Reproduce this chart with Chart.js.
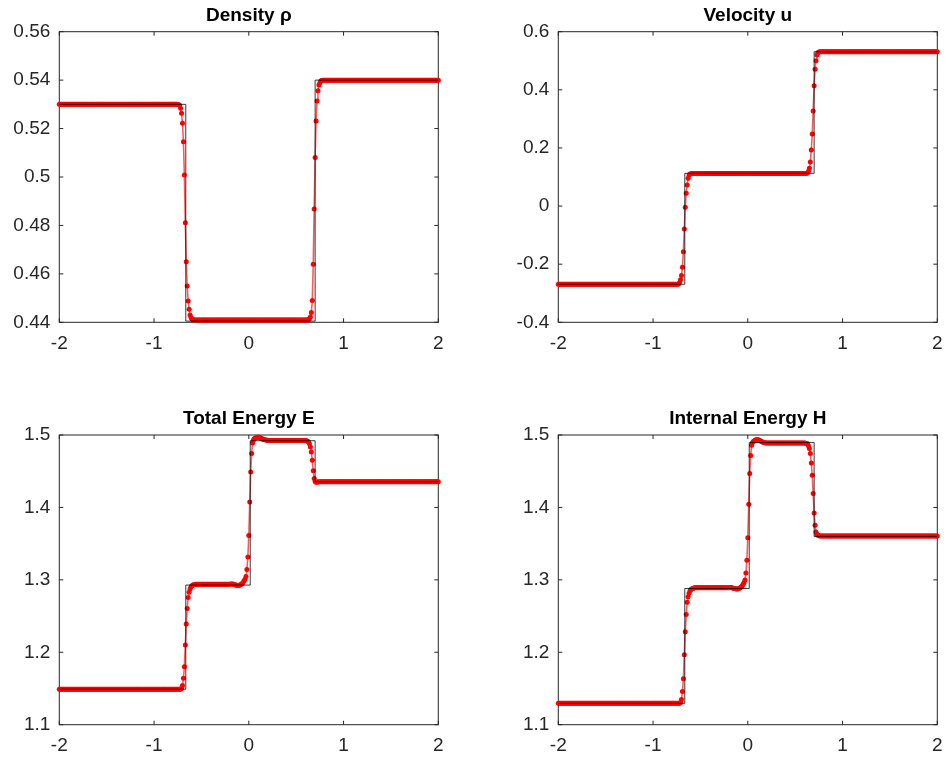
<!DOCTYPE html>
<html>
<head>
<meta charset="utf-8">
<script src="https://cdn.jsdelivr.net/npm/chart.js@4/dist/chart.umd.min.js"></script>
<style>
  html, body { margin: 0; padding: 0; background: #fff; }
  body { width: 947px; height: 761px; position: relative; overflow: hidden; }
  .panel { position: absolute; }
</style>
</head>
<body>
<div class="panel" style="left:0;top:0;width:473px;height:380px"><canvas id="rhoPlot"></canvas></div>
<div class="panel" style="left:473px;top:0;width:481px;height:380px"><canvas id="uPlot"></canvas></div>
<div class="panel" style="left:0;top:380px;width:473px;height:381px"><canvas id="ePlot"></canvas></div>
<div class="panel" style="left:473px;top:380px;width:481px;height:381px"><canvas id="hPlot"></canvas></div>
<script>
// Cell positions of the numerical solution (401 points, -2 .. 2)
const xGrid = [
-2,-1.99,-1.98,-1.97,-1.96,-1.95,-1.94,-1.93,-1.92,-1.91, -1.9,-1.89,-1.88,-1.87,-1.86,-1.85,-1.84,-1.83,-1.82,-1.81,
-1.8,-1.79,-1.78,-1.77,-1.76,-1.75,-1.74,-1.73,-1.72,-1.71, -1.7,-1.69,-1.68,-1.67,-1.66,-1.65,-1.64,-1.63,-1.62,-1.61,
-1.6,-1.59,-1.58,-1.57,-1.56,-1.55,-1.54,-1.53,-1.52,-1.51, -1.5,-1.49,-1.48,-1.47,-1.46,-1.45,-1.44,-1.43,-1.42,-1.41,
-1.4,-1.39,-1.38,-1.37,-1.36,-1.35,-1.34,-1.33,-1.32,-1.31, -1.3,-1.29,-1.28,-1.27,-1.26,-1.25,-1.24,-1.23,-1.22,-1.21,
-1.2,-1.19,-1.18,-1.17,-1.16,-1.15,-1.14,-1.13,-1.12,-1.11, -1.1,-1.09,-1.08,-1.07,-1.06,-1.05,-1.04,-1.03,-1.02,-1.01,
-1,-0.99,-0.98,-0.97,-0.96,-0.95,-0.94,-0.93,-0.92,-0.91, -0.9,-0.89,-0.88,-0.87,-0.86,-0.85,-0.84,-0.83,-0.82,-0.81,
-0.8,-0.79,-0.78,-0.77,-0.76,-0.75,-0.74,-0.73,-0.72,-0.71, -0.7,-0.69,-0.68,-0.67,-0.66,-0.65,-0.64,-0.63,-0.62,-0.61,
-0.6,-0.59,-0.58,-0.57,-0.56,-0.55,-0.54,-0.53,-0.52,-0.51, -0.5,-0.49,-0.48,-0.47,-0.46,-0.45,-0.44,-0.43,-0.42,-0.41,
-0.4,-0.39,-0.38,-0.37,-0.36,-0.35,-0.34,-0.33,-0.32,-0.31, -0.3,-0.29,-0.28,-0.27,-0.26,-0.25,-0.24,-0.23,-0.22,-0.21,
-0.2,-0.19,-0.18,-0.17,-0.16,-0.15,-0.14,-0.13,-0.12,-0.11, -0.1,-0.09,-0.08,-0.07,-0.06,-0.05,-0.04,-0.03,-0.02,-0.01,
0,0.01,0.02,0.03,0.04,0.05,0.06,0.07,0.08,0.09, 0.1,0.11,0.12,0.13,0.14,0.15,0.16,0.17,0.18,0.19,
0.2,0.21,0.22,0.23,0.24,0.25,0.26,0.27,0.28,0.29, 0.3,0.31,0.32,0.33,0.34,0.35,0.36,0.37,0.38,0.39,
0.4,0.41,0.42,0.43,0.44,0.45,0.46,0.47,0.48,0.49, 0.5,0.51,0.52,0.53,0.54,0.55,0.56,0.57,0.58,0.59,
0.6,0.61,0.62,0.63,0.64,0.65,0.66,0.67,0.68,0.69, 0.7,0.71,0.72,0.73,0.74,0.75,0.76,0.77,0.78,0.79,
0.8,0.81,0.82,0.83,0.84,0.85,0.86,0.87,0.88,0.89, 0.9,0.91,0.92,0.93,0.94,0.95,0.96,0.97,0.98,0.99,
1,1.01,1.02,1.03,1.04,1.05,1.06,1.07,1.08,1.09, 1.1,1.11,1.12,1.13,1.14,1.15,1.16,1.17,1.18,1.19,
1.2,1.21,1.22,1.23,1.24,1.25,1.26,1.27,1.28,1.29, 1.3,1.31,1.32,1.33,1.34,1.35,1.36,1.37,1.38,1.39,
1.4,1.41,1.42,1.43,1.44,1.45,1.46,1.47,1.48,1.49, 1.5,1.51,1.52,1.53,1.54,1.55,1.56,1.57,1.58,1.59,
1.6,1.61,1.62,1.63,1.64,1.65,1.66,1.67,1.68,1.69, 1.7,1.71,1.72,1.73,1.74,1.75,1.76,1.77,1.78,1.79,
1.8,1.81,1.82,1.83,1.84,1.85,1.86,1.87,1.88,1.89, 1.9,1.91,1.92,1.93,1.94,1.95,1.96,1.97,1.98,1.99,
2
];

// Numerical density
const density = [
0.53,0.53,0.53,0.53,0.53,0.53,0.53,0.53,0.53,0.53, 0.53,0.53,0.53,0.53,0.53,0.53,0.53,0.53,0.53,0.53,
0.53,0.53,0.53,0.53,0.53,0.53,0.53,0.53,0.53,0.53, 0.53,0.53,0.53,0.53,0.53,0.53,0.53,0.53,0.53,0.53,
0.53,0.53,0.53,0.53,0.53,0.53,0.53,0.53,0.53,0.53, 0.53,0.53,0.53,0.53,0.53,0.53,0.53,0.53,0.53,0.53,
0.53,0.53,0.53,0.53,0.53,0.53,0.53,0.53,0.53,0.53, 0.53,0.53,0.53,0.53,0.53,0.53,0.53,0.53,0.53,0.53,
0.53,0.53,0.53,0.53,0.53,0.53,0.53,0.53,0.53,0.53, 0.53,0.53,0.53,0.53,0.53,0.53,0.53,0.53,0.53,0.53,
0.53,0.53,0.53,0.53,0.53,0.53,0.53,0.53,0.53,0.53, 0.53,0.53,0.53,0.53,0.53,0.53,0.53,0.53,0.53,0.53,
0.53,0.53,0.53,0.53,0.53,0.5299,0.5298,0.5296,0.5284,0.5263, 0.5222,0.5146,0.5008,0.4811,0.465,0.455,0.4488,0.4454,0.443,0.442,
0.4414,0.4412,0.441,0.441,0.441,0.441,0.441,0.441,0.441,0.441, 0.441,0.441,0.441,0.441,0.441,0.441,0.441,0.441,0.441,0.441,
0.441,0.441,0.441,0.441,0.441,0.441,0.441,0.441,0.441,0.441, 0.441,0.441,0.441,0.441,0.441,0.441,0.441,0.441,0.441,0.441,
0.441,0.441,0.441,0.441,0.441,0.441,0.441,0.441,0.441,0.441, 0.441,0.441,0.441,0.441,0.441,0.441,0.441,0.441,0.441,0.441,
0.441,0.441,0.441,0.441,0.441,0.441,0.441,0.441,0.441,0.441, 0.441,0.441,0.441,0.441,0.441,0.441,0.441,0.441,0.441,0.441,
0.441,0.441,0.441,0.441,0.441,0.441,0.441,0.441,0.441,0.441, 0.441,0.441,0.441,0.441,0.441,0.441,0.441,0.441,0.441,0.441,
0.441,0.441,0.441,0.441,0.441,0.441,0.441,0.441,0.441,0.441, 0.441,0.441,0.441,0.441,0.441,0.441,0.441,0.441,0.441,0.441,
0.441,0.441,0.441,0.4412,0.4415,0.4422,0.444,0.449,0.464,0.4868, 0.5081,0.5231,0.5314,0.5356,0.538,0.5389,0.5396,0.5399,0.54,0.54,
0.54,0.54,0.54,0.54,0.54,0.54,0.54,0.54,0.54,0.54, 0.54,0.54,0.54,0.54,0.54,0.54,0.54,0.54,0.54,0.54,
0.54,0.54,0.54,0.54,0.54,0.54,0.54,0.54,0.54,0.54, 0.54,0.54,0.54,0.54,0.54,0.54,0.54,0.54,0.54,0.54,
0.54,0.54,0.54,0.54,0.54,0.54,0.54,0.54,0.54,0.54, 0.54,0.54,0.54,0.54,0.54,0.54,0.54,0.54,0.54,0.54,
0.54,0.54,0.54,0.54,0.54,0.54,0.54,0.54,0.54,0.54, 0.54,0.54,0.54,0.54,0.54,0.54,0.54,0.54,0.54,0.54,
0.54,0.54,0.54,0.54,0.54,0.54,0.54,0.54,0.54,0.54, 0.54,0.54,0.54,0.54,0.54,0.54,0.54,0.54,0.54,0.54,
0.54,0.54,0.54,0.54,0.54,0.54,0.54,0.54,0.54,0.54, 0.54,0.54,0.54,0.54,0.54,0.54,0.54,0.54,0.54,0.54,
0.54
];

// Numerical velocity
const velocity = [
-0.269,-0.269,-0.269,-0.269,-0.269,-0.269,-0.269,-0.269,-0.269,-0.269, -0.269,-0.269,-0.269,-0.269,-0.269,-0.269,-0.269,-0.269,-0.269,-0.269,
-0.269,-0.269,-0.269,-0.269,-0.269,-0.269,-0.269,-0.269,-0.269,-0.269, -0.269,-0.269,-0.269,-0.269,-0.269,-0.269,-0.269,-0.269,-0.269,-0.269,
-0.269,-0.269,-0.269,-0.269,-0.269,-0.269,-0.269,-0.269,-0.269,-0.269, -0.269,-0.269,-0.269,-0.269,-0.269,-0.269,-0.269,-0.269,-0.269,-0.269,
-0.269,-0.269,-0.269,-0.269,-0.269,-0.269,-0.269,-0.269,-0.269,-0.269, -0.269,-0.269,-0.269,-0.269,-0.269,-0.269,-0.269,-0.269,-0.269,-0.269,
-0.269,-0.269,-0.269,-0.269,-0.269,-0.269,-0.269,-0.269,-0.269,-0.269, -0.269,-0.269,-0.269,-0.269,-0.269,-0.269,-0.269,-0.269,-0.269,-0.269,
-0.269,-0.269,-0.269,-0.269,-0.269,-0.269,-0.269,-0.269,-0.269,-0.269, -0.269,-0.269,-0.269,-0.269,-0.269,-0.269,-0.269,-0.269,-0.269,-0.269,
-0.269,-0.269,-0.269,-0.269,-0.269,-0.269,-0.269,-0.268,-0.263,-0.254, -0.239,-0.2107,-0.1571,-0.0789,-0.0043,0.0439,0.0725,0.0955,0.1069,0.11,
0.1112,0.1118,0.112,0.112,0.112,0.112,0.112,0.112,0.112,0.112, 0.112,0.112,0.112,0.112,0.112,0.112,0.112,0.112,0.112,0.112,
0.112,0.112,0.112,0.112,0.112,0.112,0.112,0.112,0.112,0.112, 0.112,0.112,0.112,0.112,0.112,0.112,0.112,0.112,0.112,0.112,
0.112,0.112,0.112,0.112,0.112,0.112,0.112,0.112,0.112,0.112, 0.112,0.112,0.112,0.112,0.112,0.112,0.112,0.112,0.112,0.112,
0.112,0.112,0.112,0.112,0.112,0.112,0.112,0.112,0.112,0.112, 0.112,0.112,0.112,0.112,0.112,0.112,0.112,0.112,0.112,0.112,
0.112,0.112,0.112,0.112,0.112,0.112,0.112,0.112,0.112,0.112, 0.112,0.112,0.112,0.112,0.112,0.112,0.112,0.112,0.112,0.112,
0.112,0.112,0.112,0.112,0.112,0.112,0.112,0.112,0.112,0.112, 0.112,0.112,0.112,0.112,0.112,0.112,0.112,0.112,0.112,0.112,
0.112,0.112,0.1125,0.114,0.12,0.13,0.152,0.1929,0.248,0.3271, 0.4142,0.4706,0.5002,0.5198,0.5277,0.53,0.5308,0.531,0.531,0.531,
0.531,0.531,0.531,0.531,0.531,0.531,0.531,0.531,0.531,0.531, 0.531,0.531,0.531,0.531,0.531,0.531,0.531,0.531,0.531,0.531,
0.531,0.531,0.531,0.531,0.531,0.531,0.531,0.531,0.531,0.531, 0.531,0.531,0.531,0.531,0.531,0.531,0.531,0.531,0.531,0.531,
0.531,0.531,0.531,0.531,0.531,0.531,0.531,0.531,0.531,0.531, 0.531,0.531,0.531,0.531,0.531,0.531,0.531,0.531,0.531,0.531,
0.531,0.531,0.531,0.531,0.531,0.531,0.531,0.531,0.531,0.531, 0.531,0.531,0.531,0.531,0.531,0.531,0.531,0.531,0.531,0.531,
0.531,0.531,0.531,0.531,0.531,0.531,0.531,0.531,0.531,0.531, 0.531,0.531,0.531,0.531,0.531,0.531,0.531,0.531,0.531,0.531,
0.531,0.531,0.531,0.531,0.531,0.531,0.531,0.531,0.531,0.531, 0.531,0.531,0.531,0.531,0.531,0.531,0.531,0.531,0.531,0.531,
0.531
];

// Numerical total energy
const totalEnergy = [
1.149,1.149,1.149,1.149,1.149,1.149,1.149,1.149,1.149,1.149, 1.149,1.149,1.149,1.149,1.149,1.149,1.149,1.149,1.149,1.149,
1.149,1.149,1.149,1.149,1.149,1.149,1.149,1.149,1.149,1.149, 1.149,1.149,1.149,1.149,1.149,1.149,1.149,1.149,1.149,1.149,
1.149,1.149,1.149,1.149,1.149,1.149,1.149,1.149,1.149,1.149, 1.149,1.149,1.149,1.149,1.149,1.149,1.149,1.149,1.149,1.149,
1.149,1.149,1.149,1.149,1.149,1.149,1.149,1.149,1.149,1.149, 1.149,1.149,1.149,1.149,1.149,1.149,1.149,1.149,1.149,1.149,
1.149,1.149,1.149,1.149,1.149,1.149,1.149,1.149,1.149,1.149, 1.149,1.149,1.149,1.149,1.149,1.149,1.149,1.149,1.149,1.149,
1.149,1.149,1.149,1.149,1.149,1.149,1.149,1.149,1.149,1.149, 1.149,1.149,1.149,1.149,1.149,1.149,1.149,1.149,1.149,1.149,
1.149,1.149,1.149,1.149,1.149,1.149,1.149,1.149,1.149,1.1502, 1.154,1.164,1.18,1.2099,1.2389,1.2606,1.2757,1.283,1.2875,1.2905,
1.2918,1.2928,1.2934,1.2937,1.294,1.294,1.294,1.294,1.294,1.294, 1.294,1.294,1.294,1.294,1.294,1.294,1.294,1.294,1.294,1.294,
1.294,1.294,1.294,1.294,1.294,1.294,1.294,1.294,1.294,1.294, 1.294,1.294,1.294,1.294,1.294,1.294,1.294,1.294,1.294,1.294,
1.294,1.2942,1.2943,1.2941,1.2938,1.2935,1.293,1.2926,1.2922,1.2921, 1.2925,1.2932,1.294,1.295,1.2962,1.2986,1.301,1.3045,1.3143,1.3317,
1.3612,1.4076,1.449,1.4744,1.489,1.4935,1.495,1.4958,1.4964,1.4968, 1.497,1.4968,1.4962,1.4955,1.4948,1.4942,1.4937,1.4933,1.493,1.4928,
1.4926,1.4925,1.4925,1.4925,1.4925,1.4925,1.4925,1.4925,1.4925,1.4925, 1.4925,1.4925,1.4925,1.4925,1.4925,1.4925,1.4925,1.4925,1.4925,1.4925,
1.4925,1.4925,1.4925,1.4925,1.4925,1.4925,1.4925,1.4925,1.4925,1.4925, 1.4925,1.4925,1.4925,1.4925,1.4925,1.4925,1.4925,1.4925,1.4925,1.4925,
1.4924,1.4921,1.4914,1.4903,1.488,1.4835,1.4765,1.465,1.4505,1.44, 1.4358,1.4348,1.4347,1.4351,1.4354,1.4355,1.4355,1.4355,1.4355,1.4355,
1.4355,1.4355,1.4355,1.4355,1.4355,1.4355,1.4355,1.4355,1.4355,1.4355, 1.4355,1.4355,1.4355,1.4355,1.4355,1.4355,1.4355,1.4355,1.4355,1.4355,
1.4355,1.4355,1.4355,1.4355,1.4355,1.4355,1.4355,1.4355,1.4355,1.4355, 1.4355,1.4355,1.4355,1.4355,1.4355,1.4355,1.4355,1.4355,1.4355,1.4355,
1.4355,1.4355,1.4355,1.4355,1.4355,1.4355,1.4355,1.4355,1.4355,1.4355, 1.4355,1.4355,1.4355,1.4355,1.4355,1.4355,1.4355,1.4355,1.4355,1.4355,
1.4355,1.4355,1.4355,1.4355,1.4355,1.4355,1.4355,1.4355,1.4355,1.4355, 1.4355,1.4355,1.4355,1.4355,1.4355,1.4355,1.4355,1.4355,1.4355,1.4355,
1.4355,1.4355,1.4355,1.4355,1.4355,1.4355,1.4355,1.4355,1.4355,1.4355, 1.4355,1.4355,1.4355,1.4355,1.4355,1.4355,1.4355,1.4355,1.4355,1.4355,
1.4355,1.4355,1.4355,1.4355,1.4355,1.4355,1.4355,1.4355,1.4355,1.4355, 1.4355,1.4355,1.4355,1.4355,1.4355,1.4355,1.4355,1.4355,1.4355,1.4355,
1.4355
];

// Numerical internal energy
const internalEnergy = [
1.1295,1.1295,1.1295,1.1295,1.1295,1.1295,1.1295,1.1295,1.1295,1.1295, 1.1295,1.1295,1.1295,1.1295,1.1295,1.1295,1.1295,1.1295,1.1295,1.1295,
1.1295,1.1295,1.1295,1.1295,1.1295,1.1295,1.1295,1.1295,1.1295,1.1295, 1.1295,1.1295,1.1295,1.1295,1.1295,1.1295,1.1295,1.1295,1.1295,1.1295,
1.1295,1.1295,1.1295,1.1295,1.1295,1.1295,1.1295,1.1295,1.1295,1.1295, 1.1295,1.1295,1.1295,1.1295,1.1295,1.1295,1.1295,1.1295,1.1295,1.1295,
1.1295,1.1295,1.1295,1.1295,1.1295,1.1295,1.1295,1.1295,1.1295,1.1295, 1.1295,1.1295,1.1295,1.1295,1.1295,1.1295,1.1295,1.1295,1.1295,1.1295,
1.1295,1.1295,1.1295,1.1295,1.1295,1.1295,1.1295,1.1295,1.1295,1.1295, 1.1295,1.1295,1.1295,1.1295,1.1295,1.1295,1.1295,1.1295,1.1295,1.1295,
1.1295,1.1295,1.1295,1.1295,1.1295,1.1295,1.1295,1.1295,1.1295,1.1295, 1.1295,1.1295,1.1295,1.1295,1.1295,1.1295,1.1295,1.1295,1.1295,1.1295,
1.1295,1.1295,1.1295,1.1295,1.1295,1.1295,1.1295,1.1295,1.1295,1.1308, 1.1349,1.1459,1.1636,1.1965,1.2284,1.2523,1.2689,1.2765,1.2815,1.285,
1.2866,1.2876,1.2882,1.2886,1.289,1.289,1.289,1.289,1.289,1.289, 1.289,1.289,1.289,1.289,1.289,1.289,1.289,1.289,1.289,1.289,
1.289,1.289,1.289,1.289,1.289,1.289,1.289,1.289,1.289,1.289, 1.289,1.289,1.289,1.289,1.289,1.289,1.289,1.289,1.289,1.289,
1.289,1.2892,1.2893,1.2891,1.2888,1.2885,1.2881,1.2877,1.2874,1.2873, 1.2877,1.2884,1.2892,1.2902,1.2915,1.2938,1.2962,1.2998,1.3095,1.327,
1.358,1.4044,1.4467,1.4718,1.486,1.4898,1.4912,1.4922,1.493,1.4934, 1.4935,1.4933,1.4927,1.492,1.4913,1.4906,1.49,1.4896,1.4893,1.4891,
1.489,1.489,1.489,1.489,1.489,1.489,1.489,1.489,1.489,1.489, 1.489,1.489,1.489,1.489,1.489,1.489,1.489,1.489,1.489,1.489,
1.489,1.489,1.489,1.489,1.489,1.489,1.489,1.489,1.489,1.489, 1.489,1.489,1.489,1.489,1.489,1.489,1.489,1.489,1.489,1.489,
1.4889,1.4887,1.4884,1.4878,1.485,1.4812,1.4743,1.4614,1.4444,1.4192, 1.3924,1.3754,1.3662,1.363,1.3615,1.3608,1.3605,1.3605,1.3605,1.3605,
1.3605,1.3605,1.3605,1.3605,1.3605,1.3605,1.3605,1.3605,1.3605,1.3605, 1.3605,1.3605,1.3605,1.3605,1.3605,1.3605,1.3605,1.3605,1.3605,1.3605,
1.3605,1.3605,1.3605,1.3605,1.3605,1.3605,1.3605,1.3605,1.3605,1.3605, 1.3605,1.3605,1.3605,1.3605,1.3605,1.3605,1.3605,1.3605,1.3605,1.3605,
1.3605,1.3605,1.3605,1.3605,1.3605,1.3605,1.3605,1.3605,1.3605,1.3605, 1.3605,1.3605,1.3605,1.3605,1.3605,1.3605,1.3605,1.3605,1.3605,1.3605,
1.3605,1.3605,1.3605,1.3605,1.3605,1.3605,1.3605,1.3605,1.3605,1.3605, 1.3605,1.3605,1.3605,1.3605,1.3605,1.3605,1.3605,1.3605,1.3605,1.3605,
1.3605,1.3605,1.3605,1.3605,1.3605,1.3605,1.3605,1.3605,1.3605,1.3605, 1.3605,1.3605,1.3605,1.3605,1.3605,1.3605,1.3605,1.3605,1.3605,1.3605,
1.3605,1.3605,1.3605,1.3605,1.3605,1.3605,1.3605,1.3605,1.3605,1.3605, 1.3605,1.3605,1.3605,1.3605,1.3605,1.3605,1.3605,1.3605,1.3605,1.3605,
1.3605
];

// Exact Riemann solution: wave positions and the four constant states between them
const exactJumps = [-0.665, 0.015, 0.70];
const densityExact = [0.53, 0.4405, 0.4405, 0.54];
const velocityExact = [-0.269, 0.1127, 0.1127, 0.531];
const totalEnergyExact = [1.149, 1.2928, 1.4921, 1.4355];
const internalEnergyExact = [1.1295, 1.288, 1.4895, 1.36];

// Axis ticks
const xTicks = [-2, -1, 0, 1, 2];
const densityTicks = [0.44, 0.46, 0.48, 0.5, 0.52, 0.54, 0.56];
const velocityTicks = [-0.4, -0.2, 0, 0.2, 0.4, 0.6];
const energyTicks = [1.1, 1.2, 1.3, 1.4, 1.5];

Chart.defaults.font.family = "'Liberation Sans', Arial, Helvetica, sans-serif";
const AXIS_COLOR = '#262626';

// Box around the axes with inward ticks on all four sides, plus the panel title
const framePlugin = {
  id: 'frame',
  beforeDatasetsDraw(chart) {
    const { ctx, chartArea: a, scales } = chart;
    const len = 4;
    ctx.save();
    ctx.lineWidth = 1;
    ctx.strokeStyle = AXIS_COLOR;
    ctx.strokeRect(a.left, a.top, a.right - a.left, a.bottom - a.top);
    ctx.beginPath();
    scales.x.ticks.forEach(t => {
      const px = scales.x.getPixelForValue(t.value);
      ctx.moveTo(px, a.bottom); ctx.lineTo(px, a.bottom - len);
      ctx.moveTo(px, a.top); ctx.lineTo(px, a.top + len);
    });
    scales.y.ticks.forEach(t => {
      const py = scales.y.getPixelForValue(t.value);
      ctx.moveTo(a.left, py); ctx.lineTo(a.left + len, py);
      ctx.moveTo(a.right, py); ctx.lineTo(a.right - len, py);
    });
    ctx.stroke();
    ctx.restore();
  },
  afterDraw(chart, args, opts) {
    const { ctx, chartArea: a } = chart;
    ctx.save();
    ctx.fillStyle = '#000';
    ctx.font = "bold 19px 'Liberation Sans', Arial, sans-serif";
    ctx.textAlign = 'center';
    ctx.textBaseline = 'alphabetic';
    ctx.fillText(opts.title, (a.left + a.right) / 2, a.top - 11);
    ctx.restore();
  }
};

function numericPoints(values) {
  return xGrid.map((x, i) => ({ x: x, y: values[i] }));
}

function exactPoints(states) {
  const xs = [-2].concat(exactJumps, [2]);
  return xs.map((x, i) => ({ x: x, y: states[Math.min(i, states.length - 1)] }));
}

const tickFont = { size: 19 };

function drawPanel(canvasId, title, values, states, yTicks, yAxisWidth, padding) {
  new Chart(document.getElementById(canvasId), {
    type: 'line',
    data: {
      datasets: [
        {
          data: exactPoints(states),
          stepped: true,
          borderColor: 'rgba(0,0,0,0.78)',
          borderWidth: 1,
          pointRadius: 0,
          order: 0
        },
        {
          data: numericPoints(values),
          borderColor: 'rgba(255,20,20,0.7)',
          borderWidth: 1.6,
          pointRadius: 2.5,
          pointBackgroundColor: '#ff0000',
          pointBorderWidth: 0,
          clip: 4,
          order: 1
        }
      ]
    },
    options: {
      animation: false,
      responsive: true,
      maintainAspectRatio: false,
      events: [],
      layout: { padding: padding },
      plugins: {
        legend: { display: false },
        tooltip: { enabled: false },
        frame: { title: title }
      },
      scales: {
        x: {
          type: 'linear',
          min: -2,
          max: 2,
          afterBuildTicks: s => { s.ticks = xTicks.map(v => ({ value: v })); },
          afterFit: s => { s.height = 30; },
          grid: { display: false, drawTicks: false },
          border: { display: false },
          ticks: { padding: 10, color: AXIS_COLOR, font: tickFont, maxRotation: 0, autoSkip: false, callback: v => String(v) }
        },
        y: {
          type: 'linear',
          min: yTicks[0],
          max: yTicks[yTicks.length - 1],
          afterBuildTicks: s => { s.ticks = yTicks.map(v => ({ value: v })); },
          afterFit: s => { s.width = yAxisWidth; },
          grid: { display: false, drawTicks: false },
          border: { display: false },
          ticks: { padding: 9, color: AXIS_COLOR, font: tickFont, autoSkip: false, callback: v => String(v) }
        }
      }
    },
    plugins: [framePlugin]
  });
}

drawPanel('rhoPlot', 'Density ρ', density, densityExact, densityTicks, 59.3,
  { left: 0, right: 34.7, top: 31.7, bottom: 27.7 });
drawPanel('uPlot', 'Velocity u', velocity, velocityExact, velocityTicks, 85.3,
  { left: 0, right: 16.7, top: 31.7, bottom: 27.7 });
drawPanel('ePlot', 'Total Energy E', totalEnergy, totalEnergyExact, energyTicks, 59.3,
  { left: 0, right: 34.7, top: 55, bottom: 6.3 });
drawPanel('hPlot', 'Internal Energy H', internalEnergy, internalEnergyExact, energyTicks, 85.3,
  { left: 0, right: 16.7, top: 55, bottom: 6.3 });
</script>
</body>
</html>
